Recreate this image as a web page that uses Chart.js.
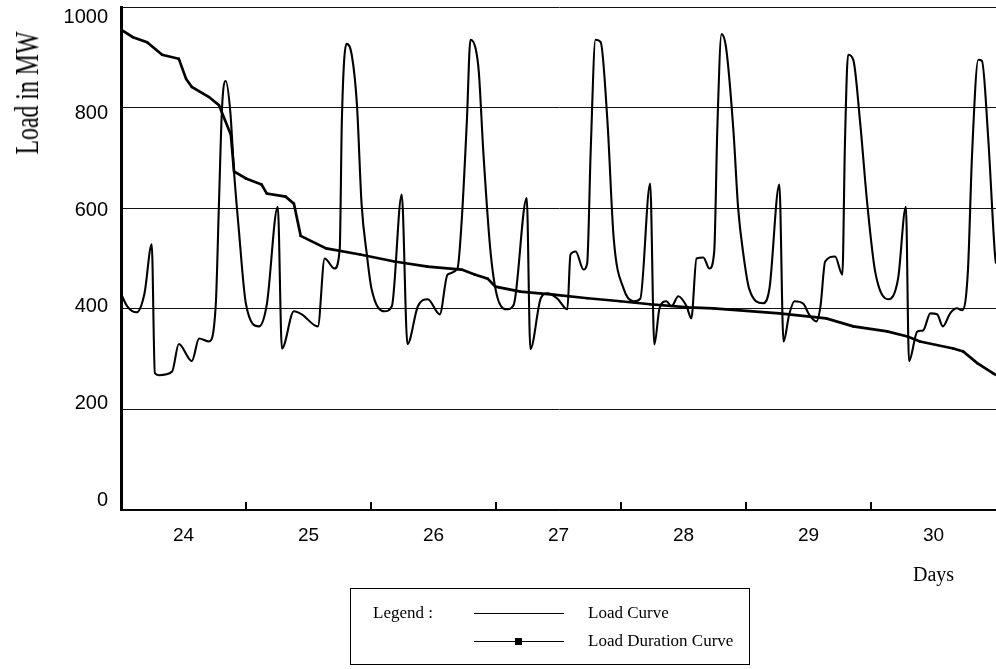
<!DOCTYPE html>
<html>
<head>
<meta charset="utf-8">
<script src="https://cdn.jsdelivr.net/npm/chart.js@4.4.1/dist/chart.umd.min.js"></script>
<style>
  html, body { margin: 0; padding: 0; background: #fff; }
  #wrap { position: relative; width: 996px; height: 669px; overflow: hidden; }
  #chart { position: absolute; left: 0; top: 0; }
  .serif { position: absolute; white-space: nowrap; color: #000;
           font-family: "Liberation Serif", "Times New Roman", serif; }
  #ylab { left: 27px; top: 93px; font-size: 34px; line-height: 1;
          transform: translate(-50%, -50%) rotate(-90deg) scaleX(0.7); }
  #days { left: 913px; top: 564px; font-size: 20px; line-height: 1; }
  #legend { position: absolute; left: 350px; top: 588px; width: 398px; height: 75px;
            border: 1.5px solid #000; }
  #legend .serif { font-size: 17px; line-height: 20px; }
  .swatch { position: absolute; left: 123px; width: 90px; border-top: 1.3px solid #000; }
  .sq { position: absolute; left: 41px; top: -4px; width: 7px; height: 7px; background: #000; }
</style>
</head>
<body>
<div id="wrap">
  <canvas id="chart" width="996" height="669"></canvas>
  <div id="ylab" class="serif">Load in MW</div>
  <div id="days" class="serif">Days</div>
  <div id="legend">
    <div class="serif" style="left:22px; top:14px;">Legend :</div>
    <div class="swatch" style="top:24px;"></div>
    <div class="serif" style="left:237px; top:14px;">Load Curve</div>
    <div class="swatch" style="top:52px;"><div class="sq"></div></div>
    <div class="serif" style="left:237px; top:42px;">Load Duration Curve</div>
  </div>
</div>
<script>
// --- Data (hours from start of day 24, MW) ---
const loadHours = [0, 1.2, 3.0, 4.5, 5.9, 6.5, 7.3, 9.8, 11.1, 13.6, 15.0, 16.9, 18.2, 18.8, 19.4, 20.1, 21.0, 21.7, 22.6,
  24.0, 26.5, 28.0, 30.1, 30.9, 33.2, 34.7, 37.8, 39.1, 41.0, 42.0, 42.4, 43.3, 44.3, 45.3, 46.2, 47.2,
  48.1, 50.6, 52.0, 53.9, 55.0, 57.0, 58.9, 61.2, 62.7, 64.6, 65.4, 66.4, 67.1, 68.1, 68.7, 69.6, 71.0,
  72.5, 74.2, 75.4, 77.9, 78.6, 80.6, 81.9, 83.8, 85.7, 86.3, 87.3, 88.8, 89.5, 90.2, 91.1, 92.1, 93.4, 94.6,
  96.5, 98.4, 99.7, 101.6, 102.4, 103.4, 104.7, 105.7, 107.0, 108.6, 109.5, 110.5, 111.8, 113.0, 113.9, 114.5,
  115.3, 116.2, 117.6, 118.5, 119.5, 120.6, 123.3, 124.5, 126.4, 127.2, 128.3, 129.3, 131.0, 132.1, 133.5,
  134.3, 135.2, 137.1, 138.5, 139.0, 139.6, 140.6, 141.9, 143.3, 144.8, 147.3, 149.2, 150.7, 151.3, 152.9,
  154.0, 155.4, 156.7, 157.8, 159.2, 160.5, 161.5, 162.6, 163.4, 164.6, 165.3, 166.5, 167.8, 168];
const loadMW = [430, 405, 393, 430, 528, 272, 268, 275, 330, 296, 341, 335, 409, 607, 800, 853, 790, 673, 560,
  409, 365, 409, 603, 321, 395, 389, 365, 500, 480, 520, 772, 927, 905, 806, 607, 508,
  440, 395, 405, 627, 330, 405, 419, 389, 468, 480, 573, 772, 935, 917, 871, 706, 508,
  415, 399, 408, 620, 320, 421, 431, 420, 399, 508, 514, 478, 490, 720, 935, 930, 772, 540,
  440, 415, 420, 649, 329, 401, 415, 405, 425, 405, 381, 500, 502, 480, 514, 760,
  946, 917, 752, 599, 508, 440, 411, 440, 647, 335, 389, 415, 410, 389, 375,
  405, 494, 504, 468, 730, 905, 895, 772, 607, 474, 419, 460, 603, 296, 355,
  357, 391, 389, 365, 391, 401, 397, 474, 706, 895, 893, 740, 508, 490];

const durHours = [0, 2.3, 5.0, 7.9, 11.1, 12.5, 13.6, 16.9, 18.8, 21.1, 21.7, 24.0, 27.0, 28.0, 31.6, 33.2,
  34.5, 39.4, 45.9, 52.5, 58.9, 65.4, 67.9, 70.4, 71.9, 76.7, 83.0, 89.6, 95.9, 101.6, 108.9, 113.7,
  126.4, 135.4, 140.6, 147.1, 151.0, 153.4, 159.8, 161.7, 164.4, 167.4, 168];
const durMW = [955, 940, 930, 905, 897, 857, 841, 821, 805, 746, 673, 659, 647, 629, 623, 609,
  545, 520, 508, 494, 484, 478, 468, 460, 444, 434, 428, 421, 415, 409, 403, 401,
  391, 381, 365, 355, 345, 335, 321, 315, 292, 272, 268];

// tick labels: day names sit mid-day, small marks at day boundaries
const dayLabelHours = [12, 36, 60, 84, 108, 132, 156];
const dayLabels = ["24", "25", "26", "27", "28", "29", "30"];
const dayBounds = [24, 48, 72, 96, 120, 144];
const yTicks = [0, 200, 400, 600, 800, 1000];

const toXY = (xs, ys) => xs.map((x, i) => ({ x: x, y: ys[i] }));

// --- Extra axis decoration ---
const axisExtras = {
  id: "axisExtras",
  afterDraw(chart) {
    const { ctx, chartArea, scales } = chart;
    const x = scales.x, y = scales.y;
    ctx.save();
    ctx.strokeStyle = "#000";
    ctx.lineWidth = 2;
    dayBounds.forEach((h) => {
      const px = Math.round(x.getPixelForValue(h));
      ctx.beginPath();
      ctx.moveTo(px, chartArea.bottom);
      ctx.lineTo(px, chartArea.bottom - 8);
      ctx.stroke();
    });
    // the scan packs the y labels a bit tighter than the grid
    ctx.font = '20px "Liberation Sans", Arial, sans-serif';
    ctx.fillStyle = "#000";
    ctx.textAlign = "right";
    ctx.textBaseline = "middle";
    yTicks.forEach((v) => {
      const py = y.getPixelForValue(v) - 10 + (20 * v) / 1000;
      ctx.fillText(String(v), chartArea.left - 13, py);
    });
    ctx.restore();
  },
};

// no point at the very ends, so the plot can run to the right edge
const durRadius = (c) => (c.dataIndex === 0 || c.dataIndex === durMW.length - 1 ? 0 : 1.6);

new Chart(document.getElementById("chart"), {
  type: "line",
  data: {
    datasets: [
      {
        label: "Load Curve",
        data: toXY(loadHours, loadMW),
        borderColor: "#000",
        borderWidth: 2.1,
        pointRadius: 0,
        pointHoverRadius: 0,
        pointBorderWidth: 0,
        cubicInterpolationMode: "monotone",
      },
      {
        label: "Load Duration Curve",
        data: toXY(durHours, durMW),
        borderColor: "#000",
        borderWidth: 2.7,
        pointStyle: "rect",
        pointRadius: durRadius,
        pointHoverRadius: durRadius,
        pointBackgroundColor: "#000",
        pointBorderWidth: 0,
      },
    ],
  },
  options: {
    responsive: false,
    animation: false,
    devicePixelRatio: 1,
    layout: { padding: { top: 7, right: 0, left: 0, bottom: 0 } },
    plugins: { legend: { display: false }, tooltip: { enabled: false } },
    scales: {
      x: {
        type: "linear",
        min: 0,
        max: 168,
        afterFit: (s) => { s.height = 159; },
        afterBuildTicks: (s) => { s.ticks = dayLabelHours.map((v) => ({ value: v })); },
        ticks: {
          padding: 14,
          color: "#000",
          font: { family: '"Liberation Sans", Arial, sans-serif', size: 19 },
          callback: (v) => dayLabels[dayLabelHours.indexOf(v)],
        },
        grid: { display: false, drawTicks: false },
        border: { display: true, color: "#000", width: 1.5 },
      },
      y: {
        min: 0,
        max: 1000,
        afterFit: (s) => { s.width = 121; },
        afterBuildTicks: (s) => { s.ticks = yTicks.map((v) => ({ value: v })); },
        ticks: { display: false },
        grid: { color: "#111", lineWidth: 1, drawTicks: false },
        border: { display: true, color: "#000", width: 3 },
      },
    },
  },
  plugins: [axisExtras],
});
</script>
</body>
</html>
